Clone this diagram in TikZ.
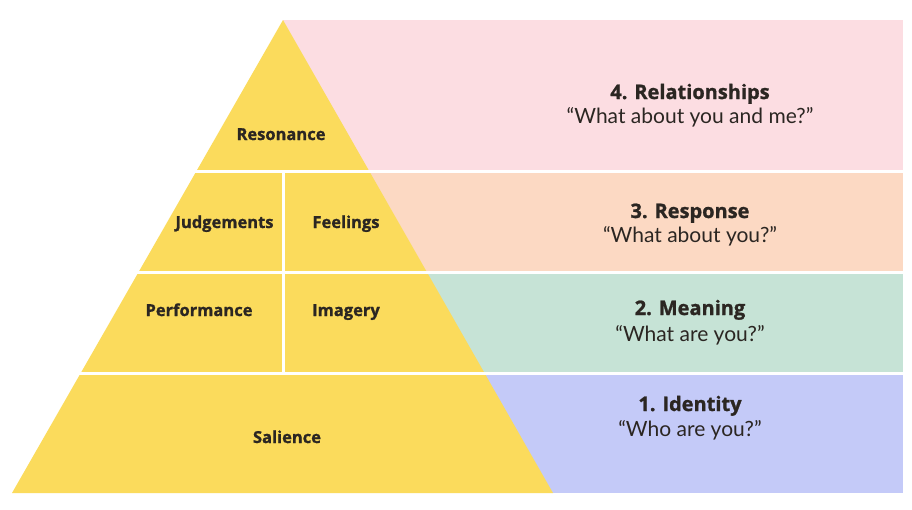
\documentclass[tikz,border=0pt]{standalone}
\usepackage{fontspec}
\setmainfont{Open Sans}[BoldFont={Open Sans Bold},BoldFeatures={FakeBold=1.2}]
\newfontfamily\quotefont{Lato}
\definecolor{pyr}{HTML}{FBDB5C}
\definecolor{pinkb}{HTML}{FCDDE2}
\definecolor{peachb}{HTML}{FCD9C3}
\definecolor{greenb}{HTML}{C6E3D6}
\definecolor{blueb}{HTML}{C4CAF8}
\definecolor{ink}{HTML}{2B2622}
\begin{document}
\begin{tikzpicture}[x=1pt,y=-1pt,
  lvl/.style={font=\bfseries\fontsize{16.5}{18}\selectfont, text=ink, inner sep=0pt, anchor=base},
  ttl/.style={font=\bfseries\fontsize{20}{22}\selectfont, text=ink, inner sep=0pt, anchor=base},
  qt/.style={font=\quotefont\fontsize{21}{24}\selectfont, text=ink, inner sep=0pt, anchor=base},
  sep/.style={white, line width=3pt}]
\useasboundingbox[fill=white] (0,0) rectangle (912,509);
% bands
\fill[pinkb] (283,20) rectangle (903,171.5);
\fill[peachb] (283,171.5) rectangle (903,272.5);
\fill[greenb] (283,272.5) rectangle (903,373.5);
\fill[blueb] (283,373.5) rectangle (903,493);
% pyramid
\fill[pyr] (283,20) -- (553,493) -- (12,493) -- cycle;
% separators
\draw[sep] (150,171.5) -- (905,171.5);
\draw[sep] (100,272.5) -- (905,272.5);
\draw[sep] (50,373.5) -- (905,373.5);
\draw[sep] (283,171.5) -- (283,373.5);
% pyramid labels
\node[lvl] (res) at (281,140) {Resonance};
\node[lvl] (jud) at (224.5,228) {Judgements};
\node[lvl] (fee) at (346,228) {Feelings};
\node[lvl] (per) at (199,316) {Performance};
\node[lvl] (ima) at (346,316) {Imagery};
\node[lvl] (sal) at (287,443) {Salience};
% right texts
\node[ttl] (t4) at (690,99) {4. Relationships};
\node[qt] (q4) at (690,123) {“What about you and me?”};
\node[ttl] (t3) at (690,218) {3. Response};
\node[qt] (q3) at (690,242) {“What about you?”};
\node[ttl] (t2) at (690,315) {2. Meaning};
\node[qt] (q2) at (690,341) {“What are you?”};
\node[ttl] (t1) at (690,411) {1. Identity};
\node[qt] (q1) at (690,436) {“Who are you?”};
\end{tikzpicture}
\end{document}
